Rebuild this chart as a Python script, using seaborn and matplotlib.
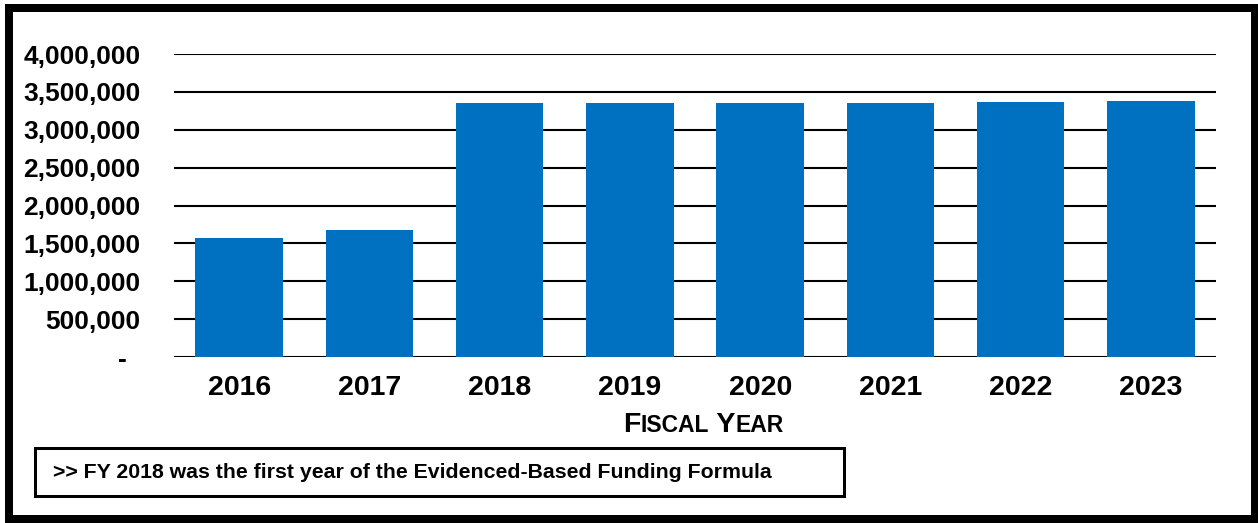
import matplotlib
matplotlib.use("Agg")
import matplotlib.pyplot as plt
import matplotlib.transforms as mtransforms
from matplotlib.patches import Rectangle
import seaborn as sns
import pandas as pd

# Annual funding by fiscal year
years = ["2016", "2017", "2018", "2019", "2020", "2021", "2022", "2023"]
funding = [1571000, 1680000, 3349000, 3357000, 3357000, 3357000, 3366000, 3375000]
y_ticks = [0, 500000, 1000000, 1500000, 2000000, 2500000, 3000000, 3500000, 4000000]
x_title = [("F", "big"), ("ISCAL", "small"), (" Y", "big"), ("EAR", "small")]
note = ">> FY 2018 was the first year of the Evidenced-Based Funding Formula"

sns.set_theme(style="white")
plt.rcParams["font.family"] = ["Liberation Sans", "DejaVu Sans"]

W, H = 1258, 523
fig = plt.figure(figsize=(W / 100, H / 100), dpi=100)
fig.patch.set_facecolor("white")


def fx(x):
    return x / W


def fy(y):
    return 1 - y / H


ax = fig.add_axes([fx(174), fy(357), (1216 - 174) / W, (357 - 54) / H])

df = pd.DataFrame({"Fiscal Year": years, "Funding": funding})
sns.barplot(data=df, x="Fiscal Year", y="Funding", color="#0070C0",
            saturation=1, width=0.67, edgecolor="none", ax=ax, zorder=3)

ax.set_xlim(-0.5, len(years) - 0.5)
ax.set_ylim(0, 4000000)
ax.set_axisbelow(True)
ax.yaxis.grid(True, color="black", linewidth=1.5)
ax.xaxis.grid(False)
for s in ax.spines.values():
    s.set_visible(False)
ax.axhline(0, color="black", linewidth=2.0, zorder=2)

ax.set_yticks(y_ticks)
ax.set_yticklabels(["-" if v == 0 else f"{v:,.0f}" for v in y_ticks],
                   fontsize=19, fontweight="bold", color="black")
ax.tick_params(axis="y", length=0, pad=24)
ax.tick_params(axis="x", length=0, pad=13)
for lab in ax.get_xticklabels():
    lab.set_fontsize(20.5)
    lab.set_fontweight("bold")
    lab.set_color("black")
ax.set_xlabel("")
ax.set_ylabel("")

# shift the zero label left, accounting-style
zero_lab = ax.yaxis.get_major_ticks()[0].label1
zero_lab.set_transform(zero_lab.get_transform() +
                       mtransforms.ScaledTranslation(-14 / 100, 0, fig.dpi_scale_trans))

# small-caps axis title
fig.canvas.draw()
renderer = fig.canvas.get_renderer()
sizes = {"big": 20.5, "small": 16.5}
x = 623
for txt, kind in x_title:
    t = fig.text(fx(x), fy(432), txt, fontsize=sizes[kind], fontweight="bold",
                 ha="left", va="baseline", color="black")
    bb = t.get_window_extent(renderer)
    x = bb.x1

# note box
fig.patches.append(Rectangle((fx(34.5), fy(495.5)), (843.5 - 34.5) / W, (495.5 - 447.5) / H,
                             transform=fig.transFigure, fill=False, ec="black",
                             lw=3 * 0.72, zorder=5))
fig.text(fx(53), fy(478), note, fontsize=15.3, fontweight="bold",
         ha="left", va="baseline", color="black")

# outer frame
fig.patches.append(Rectangle((fx(9), fy(519)), (1255 - 9) / W, (519 - 7.5) / H,
                             transform=fig.transFigure, fill=False, ec="black",
                             lw=8 * 0.72, zorder=5))

fig.savefig("out.png", dpi=100, facecolor="white")
